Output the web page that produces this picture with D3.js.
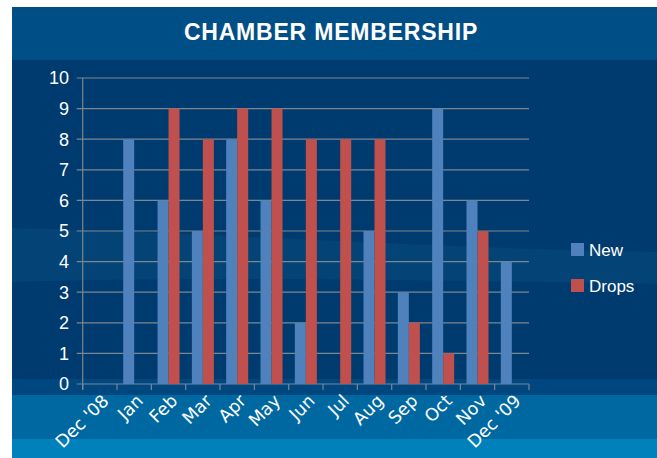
<!DOCTYPE html>
<html>
<head>
<meta charset="utf-8">
<script src="https://cdn.jsdelivr.net/npm/d3@7"></script>
<style>
  body { margin: 0; background: #fff; }
  text { font-family: "Liberation Sans", Arial, Helvetica, sans-serif; fill: #fff; }
  text.month { font-family: "DejaVu Sans", Verdana, sans-serif; }
</style>
</head>
<body>
<svg id="chart" width="657" height="458"></svg>
<script>
var months = ["Dec '08", 'Jan', 'Feb', 'Mar', 'Apr', 'May', 'Jun', 'Jul', 'Aug', 'Sep', 'Oct', 'Nov', "Dec '09"]
var newMembers = [0, 8, 6, 5, 8, 6, 2, 0, 5, 3, 9, 6, 4]
var dropMembers = [0, 0, 9, 8, 9, 9, 8, 8, 8, 2, 1, 5, 0]
var seriesNames = ['New', 'Drops']
var seriesColors = ['#4f81bd', '#c0504d']
var yTicks = [0, 1, 2, 3, 4, 5, 6, 7, 8, 9, 10]

var svg = d3.select('#chart')

// backdrop: header strip, dark plot area, lighter bands at the bottom
var bands = [
  {y0: 7, y1: 60, c: '#004e86'},
  {y0: 60, y1: 379, c: '#003b6f'},
  {y0: 379, y1: 395, c: '#00477f'},
  {y0: 395, y1: 439, c: '#0068a1'},
  {y0: 439, y1: 458, c: '#0081bc'}
]
svg.selectAll('rect.band')
    .data(bands)
    .enter().append('rect')
    .attr('class', 'band')
    .attr('x', 12)
    .attr('y', d => d.y0)
    .attr('width', 645)
    .attr('height', d => d.y1 - d.y0)
    .style('fill', d => d.c)

// faint swoosh across the middle
svg.append('path')
    .attr('d', 'M12,228 C200,232 420,248 657,252 L657,284 C420,280 200,276 12,282 Z')
    .style('fill', '#0a5a8c')
    .style('opacity', 0.25)

svg.append('text')
    .attr('x', 331)
    .attr('y', 40)
    .attr('text-anchor', 'middle')
    .style('font-size', '23px')
    .style('font-weight', 'bold')
    .style('letter-spacing', '0.8px')
    .text('CHAMBER MEMBERSHIP')

var plotLeft = 82.7
var plotRight = 529
var plotTop = 78
var plotBottom = 384

var x = d3.scaleBand()
    .domain(months)
    .range([plotLeft, plotRight])
    .padding(0)

var xs = d3.scaleBand()
    .domain(seriesNames)
    .range([0, x.bandwidth()])
    .paddingInner(0)
    .paddingOuter(0.56)

var y = d3.scaleLinear()
    .domain([0, 10])
    .range([plotBottom, plotTop])

var gridColor = '#7d8790'

// gridlines
svg.append('g')
    .selectAll('line')
    .data(yTicks)
    .enter().append('line')
    .attr('x1', plotLeft - 6)
    .attr('x2', plotRight)
    .attr('y1', d => y(d))
    .attr('y2', d => y(d))
    .style('stroke', gridColor)
    .style('stroke-width', 1.2)

// y axis line and labels
svg.append('line')
    .attr('x1', plotLeft).attr('x2', plotLeft)
    .attr('y1', plotTop).attr('y2', plotBottom + 6)
    .style('stroke', gridColor)
    .style('stroke-width', 1.2)

svg.append('g')
    .selectAll('text')
    .data(yTicks)
    .enter().append('text')
    .attr('x', 69)
    .attr('y', d => y(d))
    .attr('dy', '0.36em')
    .attr('text-anchor', 'end')
    .style('font-size', '18px')
    .text(d => d)

// category boundary ticks under the zero line
var tickPos = months.map(m => x(m)).concat([plotRight])
svg.append('g')
    .selectAll('line')
    .data(tickPos)
    .enter().append('line')
    .attr('x1', d => d).attr('x2', d => d)
    .attr('y1', plotBottom).attr('y2', plotBottom + 6)
    .style('stroke', gridColor)
    .style('stroke-width', 1.2)

// bars
var rows = months.map((m, i) => ({month: m, values: [newMembers[i], dropMembers[i]]}))

var groups = svg.append('g')
    .selectAll('g')
    .data(rows)
    .enter().append('g')
    .attr('transform', d => `translate(${x(d.month)}, 0)`)

groups.selectAll('rect')
    .data(d => d.values.map((v, j) => ({key: seriesNames[j], value: v, color: seriesColors[j]})))
    .enter().append('rect')
    .attr('x', d => xs(d.key))
    .attr('width', xs.bandwidth())
    .attr('y', d => y(d.value))
    .attr('height', d => y(0) - y(d.value))
    .style('fill', d => d.color)

// rotated month labels
svg.append('g')
    .selectAll('text')
    .data(months)
    .enter().append('text')
    .attr('class', 'month')
    .attr('transform', d => `translate(${x(d) + x.bandwidth() / 2 + 10}, 402) rotate(-45)`)
    .attr('text-anchor', 'end')
    .style('font-size', '17.5px')
    .text(d => d)

// legend
var legend = svg.append('g')
    .selectAll('g')
    .data(seriesNames)
    .enter().append('g')
    .attr('transform', (d, i) => `translate(571, ${243 + i * 36})`)

legend.append('rect')
    .attr('width', 13)
    .attr('height', 13)
    .style('fill', (d, i) => seriesColors[i])

legend.append('text')
    .attr('x', 18)
    .attr('y', 13)
    .style('font-size', '17px')
    .text(d => d)
</script>
</body>
</html>
